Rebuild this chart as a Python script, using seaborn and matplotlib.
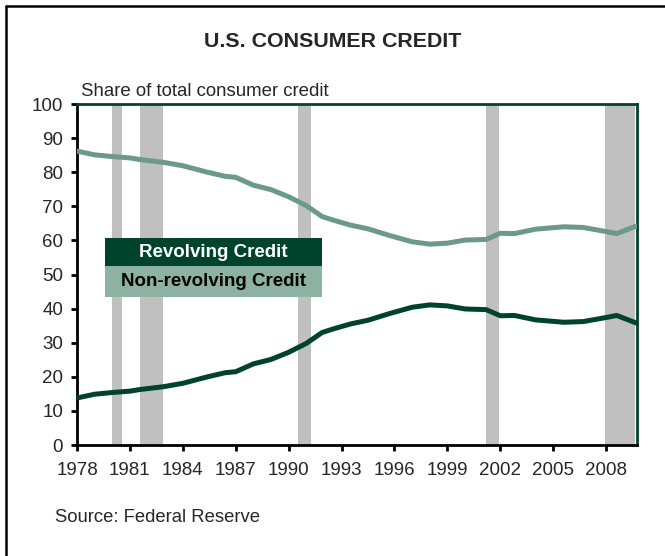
import numpy as np
import pandas as pd
import matplotlib
matplotlib.use('Agg')
import matplotlib.pyplot as plt
from matplotlib.patches import Rectangle
from matplotlib.lines import Line2D
import seaborn as sns

# ===================== data =====================
years = [1978, 1979, 1980, 1981, 1981.6, 1982.9, 1984, 1985.4, 1986.4, 1987,
         1988, 1989, 1990, 1991, 1991.9, 1992.5, 1993.5, 1994.5, 1995.75, 1997,
         1998, 1999, 2000, 2001.2, 2002, 2002.8, 2004, 2005.6, 2006.7, 2008,
         2008.6, 2009.75]
revolving = [13.8, 14.9, 15.4, 15.8, 16.3, 17.1, 18.1, 20.0, 21.2, 21.5,
             23.8, 25.1, 27.2, 29.8, 33.0, 34.0, 35.5, 36.6, 38.6, 40.4,
             41.1, 40.8, 39.9, 39.7, 37.9, 38.0, 36.7, 36.0, 36.2, 37.4,
             38.0, 35.7]
non_revolving = [86.2, 85.1, 84.6, 84.2, 83.7, 82.9, 81.9, 80.0, 78.8, 78.5,
                 76.2, 74.9, 72.8, 70.2, 67.0, 66.0, 64.5, 63.4, 61.4, 59.6,
                 58.9, 59.2, 60.1, 60.3, 62.1, 62.0, 63.3, 64.0, 63.8, 62.6,
                 62.0, 64.3]
recessions = [(1980.0, 1980.55), (1981.55, 1982.9), (1990.55, 1991.25),
              (2001.2, 2001.9), (2007.95, 2009.65)]
x_ticks = [1978, 1981, 1984, 1987, 1990, 1993, 1996, 1999, 2002, 2005, 2008]
y_ticks = [0, 10, 20, 30, 40, 50, 60, 70, 80, 90, 100]

DARK = '#00432d'
LIGHT = '#6b9a86'
LIGHT_BOX = '#8db2a2'

# ===================== style =====================
sns.set_style('white')
plt.rcParams['font.family'] = ['Liberation Sans', 'DejaVu Sans']

df = pd.DataFrame({'year': years, 'Revolving Credit': revolving,
                   'Non-revolving Credit': non_revolving})

fig = plt.figure(figsize=(6.65, 5.56), dpi=100)
ax = fig.add_axes([0.1158, 0.1996, 0.8421, 0.6133])

for start, end in recessions:
    ax.axvspan(start, end, color='#c0c0c0', lw=0, zorder=1)

sns.lineplot(data=df, x='year', y='Non-revolving Credit', color=LIGHT, lw=3.6,
             ax=ax, zorder=3)
sns.lineplot(data=df, x='year', y='Revolving Credit', color=DARK, lw=3.6,
             ax=ax, zorder=3)

ax.set_xlim(1978, 2009.75)
ax.set_ylim(0, 100)
ax.set_xticks(x_ticks)
ax.set_yticks(y_ticks)
ax.set_xlabel('')
ax.set_ylabel('')
ax.tick_params(axis='both', labelsize=13.5, length=4.5, width=2,
               direction='out', color='black')
ax.tick_params(axis='x', bottom=True, pad=8)
ax.tick_params(axis='y', left=True, pad=5.5)

for side in ['left', 'bottom']:
    ax.spines[side].set_color('black')
    ax.spines[side].set_linewidth(2)
for side in ['top', 'right']:
    ax.spines[side].set_color(DARK)
    ax.spines[side].set_linewidth(2)

# legend boxes
ax.add_patch(Rectangle((0.05, 0.525), 0.3875, 0.082, transform=ax.transAxes,
                       facecolor=DARK, edgecolor='none', zorder=5))
ax.add_patch(Rectangle((0.05, 0.434), 0.3875, 0.091, transform=ax.transAxes,
                       facecolor=LIGHT_BOX, edgecolor='none', zorder=5))
ax.text(0.2437, 0.566, 'Revolving Credit', transform=ax.transAxes, ha='center',
        va='center', color='white', fontsize=13.5, fontweight='bold', zorder=6)
ax.text(0.2437, 0.4795, 'Non-revolving Credit', transform=ax.transAxes,
        ha='center', va='center', color='black', fontsize=13.5,
        fontweight='bold', zorder=6)

# texts
fig.text(0.5, 0.925, 'U.S. CONSUMER CREDIT', ha='center', va='center',
         fontsize=15.4, fontweight='bold')
fig.text(0.122, 0.835, 'Share of total consumer credit', ha='left',
         va='center', fontsize=13.4)
fig.text(0.083, 0.07, 'Source: Federal Reserve', ha='left', va='center',
         fontsize=13.3)

# frame (top and left)
fig.add_artist(Line2D([0.0085, 1.0], [0.9885, 0.9885], color='black', lw=1.8,
                      transform=fig.transFigure))
fig.add_artist(Line2D([0.0095, 0.0095], [0.0, 0.99], color='black', lw=1.8,
                      transform=fig.transFigure))

fig.savefig('out.png', dpi=100)
